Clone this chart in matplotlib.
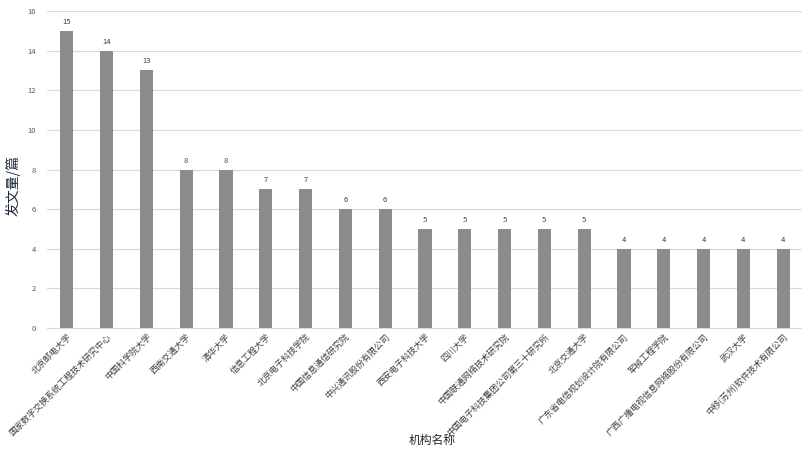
import matplotlib
matplotlib.use("Agg")
import matplotlib.pyplot as plt

plt.rcParams['font.family'] = ['Noto Sans CJK SC', 'DejaVu Sans']

institutions = [
    "北京邮电大学", "国家数字交换系统工程技术研究中心", "中国科学院大学", "西南交通大学",
    "清华大学", "信息工程大学", "北京电子科技学院", "中国信息通信研究院",
    "中兴通讯股份有限公司", "西安电子科技大学", "四川大学", "中国联通网络技术研究院",
    "中国电子科技集团公司第三十研究所", "北京交通大学", "广东省电信规划设计院有限公司",
    "军械工程学院", "广西广播电视信息网络股份有限公司", "武汉大学", "中移(苏州)软件技术有限公司",
]
counts = [15, 14, 13, 8, 8, 7, 7, 6, 6, 5, 5, 5, 5, 5, 4, 4, 4, 4, 4]
y_ticks = [0, 2, 4, 6, 8, 10, 12, 14, 16]

fig = plt.figure(figsize=(8.03, 4.58), dpi=100)
ax = fig.add_axes([0.0585, 0.2838, 0.9415, 0.6922])

x = list(range(len(institutions)))
bars = ax.bar(x, counts, width=0.33, color='#8c8c8c', zorder=3)
for xi, v in zip(x, counts):
    ax.text(xi, v + 0.25, str(v), ha='center', va='bottom', fontsize=5.5, color='#404040')

ax.set_xlim(-0.5, len(institutions) - 0.5)
ax.set_ylim(0, 16)
ax.set_yticks(y_ticks)
ax.set_yticklabels([str(t) for t in y_ticks], fontsize=5.5, color='#595959')
ax.yaxis.grid(True, color='#d9d9d9', linewidth=0.8, zorder=0)
ax.set_axisbelow(True)
ax.tick_params(axis='y', length=0, pad=8)
ax.tick_params(axis='x', length=0, pad=3)
ax.set_xticks(x)
ax.set_xticklabels(institutions, rotation=45, ha='right', va='top', rotation_mode='anchor',
                   fontsize=6.3, color='#404040')
for s in ['top', 'right', 'left']:
    ax.spines[s].set_visible(False)
ax.spines['bottom'].set_color('#d9d9d9')

ax.set_ylabel("发文量/篇", fontsize=10, color='#1a2a3a')
ax.yaxis.set_label_coords(-0.035, 0.45)
fig.text(0.538, 0.024, "机构名称", ha='center', va='bottom', fontsize=8.5, color='#262626')

fig.savefig("out.png", dpi=100)
